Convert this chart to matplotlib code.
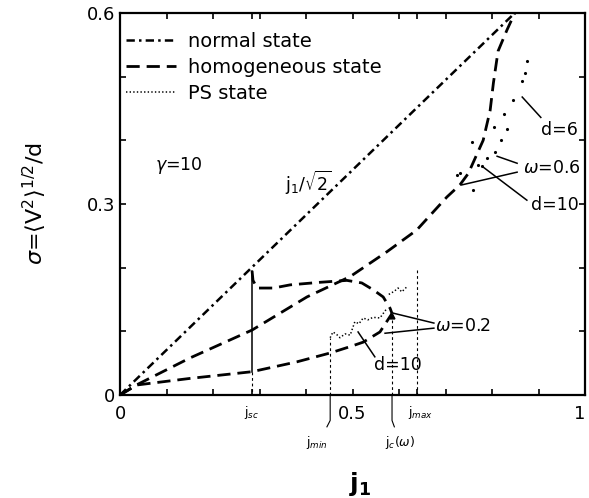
import matplotlib
matplotlib.use("Agg")
from matplotlib import pyplot as plt
from matplotlib.lines import Line2D

plt.rcParams['font.family'] = ['DejaVu Sans']
plt.rcParams['lines.scale_dashes'] = False

# normal state, sigma = j1/sqrt(2)
j_norm = [0.0, 0.849]
s_norm = [0.0, 0.600]

# homogeneous state, omega = 0.6
j_hom6 = [0.0, 0.036, 0.15, 0.284, 0.402, 0.495, 0.574, 0.638, 0.703, 0.731, 0.749,
          0.781, 0.796, 0.803, 0.813, 0.832, 0.849]
s_hom6 = [0.0, 0.016, 0.058, 0.102, 0.154, 0.186, 0.225, 0.259, 0.311, 0.330, 0.348,
          0.400, 0.447, 0.490, 0.540, 0.573, 0.600]

# homogeneous state, omega = 0.2 (lower branch and upper branch)
j_hom2 = [0.0, 0.036, 0.15, 0.284, 0.38, 0.452, 0.495, 0.523, 0.559, 0.585]
s_hom2 = [0.0, 0.0157, 0.026, 0.0366, 0.052, 0.066, 0.076, 0.083, 0.099, 0.128]
j_hump = [0.284, 0.286, 0.295, 0.33, 0.366, 0.43, 0.488, 0.52, 0.545, 0.566, 0.581, 0.585]
s_hump = [0.195, 0.180, 0.168, 0.168, 0.173, 0.177, 0.180, 0.176, 0.165, 0.154, 0.136, 0.128]

# PS state, omega = 0.2, d = 10
j_ps2a = [0.452, 0.458, 0.466, 0.473, 0.484, 0.495, 0.505, 0.514, 0.523, 0.533, 0.544, 0.559, 0.574]
s_ps2a = [0.090, 0.099, 0.095, 0.090, 0.096, 0.094, 0.115, 0.112, 0.121, 0.118, 0.122, 0.121, 0.136]
j_ps2b = [0.578, 0.590, 0.598, 0.606, 0.617]
s_ps2b = [0.158, 0.163, 0.168, 0.162, 0.170]

# PS state, omega = 0.6 (sparse points)
j_ps6_d6 = [0.789, 0.806, 0.819, 0.832, 0.845, 0.865, 0.871, 0.875]
s_ps6_d6 = [0.372, 0.381, 0.400, 0.418, 0.464, 0.493, 0.505, 0.524]
j_ps6_d10 = [0.725, 0.731, 0.757, 0.759, 0.770, 0.778, 0.804, 0.826]
s_ps6_d10 = [0.345, 0.349, 0.397, 0.322, 0.361, 0.359, 0.421, 0.441]

# characteristic currents
j_sc, j_min, j_c, j_max = 0.284, 0.452, 0.585, 0.639

DASH = (9.5, 5)
DASHDOT = (6, 3, 1.8, 3)
DOT = (1, 1.6)

fig = plt.figure(figsize=(5.89, 4.98), dpi=100)
ax = fig.add_axes([120/589, 1-395/498, 465/589, 382/498])

ax.plot(j_norm, s_norm, color='k', lw=1.8, dashes=DASHDOT)
ax.plot(j_hom6, s_hom6, color='k', lw=2.0, dashes=DASH)
ax.plot(j_hom2, s_hom2, color='k', lw=2.0, dashes=DASH)
ax.plot(j_hump, s_hump, color='k', lw=2.0, dashes=DASH)
ax.plot(j_ps2a, s_ps2a, color='k', lw=1.1, dashes=DOT)
ax.plot(j_ps2b, s_ps2b, color='k', lw=1.1, dashes=DOT)
ax.plot(j_ps6_d6, s_ps6_d6, 'k.', ms=2.5)
ax.plot(j_ps6_d10, s_ps6_d10, 'k.', ms=2.5)

# vertical markers
ax.plot([j_sc, j_sc], [s_hump[0], s_hom2[3]], color='k', lw=1.1)
ax.plot([j_sc, j_sc], [s_hom2[3], 0], color='k', lw=0.8, dashes=(2, 2))
ax.plot([j_min, j_min], [0, s_ps2a[0]], color='k', lw=0.8, dashes=(2, 2))
ax.plot([j_c, j_c], [0, s_hom2[-1]], color='k', lw=0.8, dashes=(2, 2))
ax.plot([j_c], [s_hom2[-1] - 0.004], 'k^', ms=3.5)
ax.plot([j_max, j_max], [0, 0.2], color='k', lw=0.8, dashes=(2, 2))

# legend
handles = [Line2D([], [], color='k', lw=1.8, dashes=DASHDOT),
           Line2D([], [], color='k', lw=2.0, dashes=DASH),
           Line2D([], [], color='k', lw=1.1, dashes=DOT)]
ax.legend(handles, ['normal state', 'homogeneous state', 'PS state'],
          loc='upper left', bbox_to_anchor=(0.012, 0.950), frameon=False,
          fontsize=14, handlelength=2.6, handletextpad=0.6, labelspacing=0.35,
          borderpad=0, borderaxespad=0)

# annotations
txt = dict(color='k', fontsize=12.5)
ax.text(0.075, 0.361, r'$\gamma$=10', va='center', **txt)
ax.text(0.355, 0.333, r'j$_1$/$\sqrt{2}$', va='center', **txt)
ax.text(0.677, 0.109, r'$\omega$=0.2', va='center', **txt)
ax.text(0.598, 0.047, 'd=10', ha='center', va='center', **txt)
ax.text(0.946, 0.416, 'd=6', ha='center', va='center', **txt)
ax.text(0.929, 0.356, r'$\omega$=0.6', ha='center', va='center', **txt)
ax.text(0.935, 0.298, 'd=10', ha='center', va='center', **txt)

leaders = [([0.675, 0.585], [0.113, 0.129]),
           ([0.675, 0.570], [0.105, 0.097]),
           ([0.548, 0.512], [0.060, 0.099]),
           ([0.905, 0.865], [0.436, 0.468]),
           ([0.854, 0.811], [0.364, 0.375]),
           ([0.854, 0.735], [0.350, 0.330]),
           ([0.875, 0.781], [0.306, 0.358])]
for lx, ly in leaders:
    ax.plot(lx, ly, color='k', lw=1.1)

# labels below the axis
small = dict(color='k', fontsize=9, ha='center', va='center', clip_on=False)
ax.text(j_sc, -0.027, r'j$_{sc}$', **small)
ax.text(j_max + 0.008, -0.027, r'j$_{max}$', **small)
ax.text(0.424, -0.074, r'j$_{min}$', **small)
ax.text(0.602, -0.074, r'j$_c$($\omega$)', **small)
ax.plot([j_min, j_min, j_min - 0.007], [0, -0.04, -0.05], color='k', lw=0.8, clip_on=False)
ax.plot([j_c, j_c, j_c + 0.005], [0, -0.04, -0.05], color='k', lw=0.8, clip_on=False)

ax.set_xlim(0, 1)
ax.set_ylim(0, 0.6)
ax.set_xticks([0, 0.5, 1])
ax.set_xticklabels(['0', '0.5', '1'])
ax.get_xticklabels()[-1].set_horizontalalignment('right')
ax.set_xticks([0.1, 0.2, j_sc, 0.3, 0.4, 0.6, j_max, 0.7, 0.8, 0.9], minor=True)
ax.set_yticks([0, 0.3, 0.6])
ax.set_yticklabels(['0', '0.3', '0.6'])
ax.set_yticks([0.1, 0.2, 0.4, 0.5], minor=True)
ax.tick_params(which='both', direction='in', length=4, width=1.2,
               top=True, right=True, labelsize=13)
ax.tick_params(axis='x', pad=7)
for sp in ax.spines.values():
    sp.set_linewidth(1.6)

fig.text(35/589, 1-203/498, r'$\sigma$=$\langle$V$^2\rangle^{1/2}$/d',
         rotation=90, ha='center', va='center', fontsize=16)
fig.text(360/589, 1-484/498, r'$\mathbf{j}_\mathbf{1}$', ha='center', va='center', fontsize=18)

fig.savefig('out.png', dpi=100)
